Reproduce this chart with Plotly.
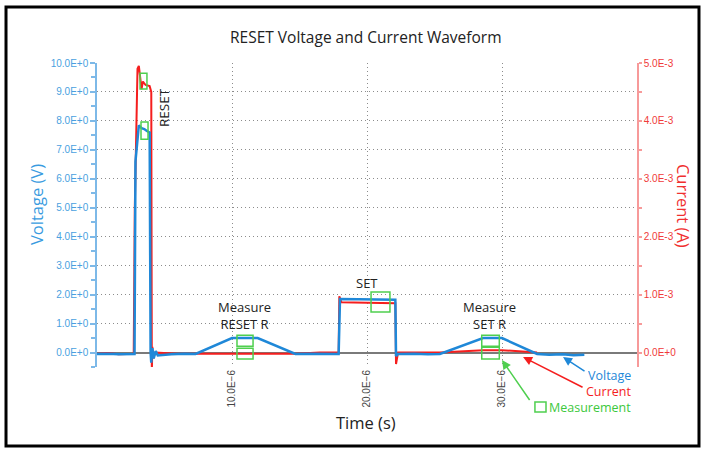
import plotly.graph_objects as go

# ---- data (time in microseconds, voltage in V, current in mA) ----
t_voltage_us = [0.0, 0.8, 1.6, 2.4, 2.78, 2.85, 3.1, 3.3, 3.5, 3.7, 3.9, 3.97, 4.02, 4.1, 4.2, 4.35, 4.5,
                5.5, 6.5, 7.3, 10.0, 11.9, 14.7, 15.8, 17.0, 17.9, 18.0, 20.0, 22.1, 22.15, 22.3,
                23.5, 24.5, 25.4, 28.6, 30.0, 32.6, 33.5, 34.5, 35.3, 36.1]
voltage_v = [-0.05, -0.04, -0.06, -0.05, -0.05, 6.6, 7.85, 7.75, 7.72, 7.65, 7.6, 0.0, -0.35, 0.15, -0.2, 0.05, -0.1,
             -0.06, -0.04, -0.05, 0.5, 0.5, -0.05, -0.04, -0.06, -0.05, 1.85, 1.84, 1.82, -0.12, -0.05,
             -0.04, -0.06, -0.05, 0.5, 0.5, -0.05, -0.08, -0.06, -0.09, -0.08]

t_current_us = [0.0, 0.8, 1.6, 2.4, 2.72, 2.8, 3.0, 3.1, 3.2, 3.3, 3.4, 3.6, 3.9, 4.02, 4.06, 4.1, 4.18, 4.3,
                6.0, 7.3, 10.0, 12.0, 14.7, 16.5, 17.9, 17.95, 18.1, 20.0, 22.1, 22.15, 22.3,
                24.0, 25.4, 28.6, 30.0, 32.6]
current_ma = [-0.02, -0.01, -0.03, -0.02, -0.02, 2.5, 4.9, 4.95, 4.7, 4.55, 4.68, 4.62, 4.6, 4.5, -0.35, 0.1, -0.1, 0.0,
              -0.02, -0.02, -0.02, -0.03, -0.02, 0.0, 0.0, 0.97, 0.87, 0.86, 0.85, -0.2, 0.0,
              0.0, 0.0, 0.04, 0.04, 0.0]

x_tick_vals = [10e-6, 20e-6, 30e-6]
x_tick_text = ["10.0E\u22126", "20.0E\u22126", "30.0E\u22126"]
v_tick_vals = [0, 1, 2, 3, 4, 5, 6, 7, 8, 9, 10]
v_tick_text = ["0.0E+0", "1.0E+0", "2.0E+0", "3.0E+0", "4.0E+0", "5.0E+0",
               "6.0E+0", "7.0E+0", "8.0E+0", "9.0E+0", "10.0E+0"]
i_tick_vals = [0, 1e-3, 2e-3, 3e-3, 4e-3, 5e-3]
i_tick_text = ["0.0E+0", "1.0E-3", "2.0E-3", "3.0E-3", "4.0E-3", "5.0E-3"]

BLUE = "#1f88d8"
RED = "#f51e1e"
GREEN = "#4fcf4f"
AX_BLUE = "#7db9e8"
AX_RED = "#f79a9a"
TXT = "#222222"
GRID = "#8c8c8c"
FONT = "Open Sans"

fig = go.Figure()
# current on the primary (right-side) axis so that the voltage trace is drawn on top
fig.add_trace(go.Scatter(x=[t * 1e-6 for t in t_current_us], y=[c * 1e-3 for c in current_ma], mode="lines",
                         line=dict(color=RED, width=2), name="Current", yaxis="y"))
fig.add_trace(go.Scatter(x=[t * 1e-6 for t in t_voltage_us], y=voltage_v, mode="lines",
                         line=dict(color=BLUE, width=2.5), name="Voltage", yaxis="y2"))

fig.update_layout(
    width=704, height=449,
    margin=dict(l=97, r=67, t=63, b=82),
    paper_bgcolor="white", plot_bgcolor="white",
    showlegend=False,
    xaxis=dict(range=[0, 40e-6], tickmode="array", tickvals=x_tick_vals, ticktext=x_tick_text,
               tickangle=-90, showgrid=True, gridcolor=GRID, griddash="1px,3px", gridwidth=1,
               zeroline=False, showline=False, ticks="",
               tickfont=dict(family="Liberation Sans", size=10, color="#444444")),
    yaxis2=dict(range=[-0.5, 10], tickmode="array", tickvals=v_tick_vals, ticktext=v_tick_text,
                overlaying="y", side="left",
                showgrid=True, gridcolor=GRID, griddash="1px,3px", gridwidth=1,
                zeroline=True, zerolinecolor="#7a7a7a", zerolinewidth=1.5,
                showline=True, linecolor=AX_BLUE, linewidth=1.5,
                ticks="outside", ticklen=5, tickcolor=AX_BLUE, tickwidth=1.5,
                minor=dict(tickmode="linear", tick0=0, dtick=0.5, ticks="outside", ticklen=4,
                           tickcolor=AX_BLUE, showgrid=False),
                tickfont=dict(family="Liberation Sans", size=10, color="#4a9fe0")),
    yaxis=dict(range=[-0.25e-3, 5e-3], side="right", tickmode="array",
               tickvals=i_tick_vals, ticktext=i_tick_text, showgrid=False, zeroline=False,
               showline=True, linecolor=AX_RED, linewidth=1.5,
               ticks="outside", ticklen=3, tickcolor=AX_RED, tickwidth=1.5,
               minor=dict(tickmode="linear", tick0=0, dtick=0.5e-3, ticks="outside", ticklen=3,
                          tickcolor=AX_RED, showgrid=False),
               tickfont=dict(family="Liberation Sans", size=10, color="#f03a3a")),
)

# measurement boxes (x in µs, y in V)
boxes = [
    (3.19, 3.70, 9.10, 9.65),
    (3.26, 3.78, 7.37, 7.96),
    (10.37, 11.56, 0.22, 0.60),
    (10.37, 11.56, -0.22, 0.15),
    (20.30, 21.70, 1.40, 2.09),
    (28.50, 29.80, 0.22, 0.60),
    (28.50, 29.80, -0.22, 0.18),
]
for x0, x1, y0, y1 in boxes:
    fig.add_shape(type="rect", xref="x", yref="y2", x0=x0 * 1e-6, x1=x1 * 1e-6, y0=y0, y1=y1,
                  line=dict(color=GREEN, width=1.5), fillcolor="rgba(0,0,0,0)")

# legend square icon
fig.add_shape(type="rect", xref="paper", yref="paper", x0=0.811, x1=0.8315, y0=-0.148, y1=-0.115,
              line=dict(color=GREEN, width=1.5))
# outer frame
fig.add_shape(type="rect", xref="paper", yref="paper", x0=-0.1685, x1=1.1148, y0=-0.26, y1=1.184,
              line=dict(color="black", width=3))


def pa(x, y, text, size, color, xanchor="center", angle=0, height=None):
    d = dict(xref="paper", yref="paper", x=x, y=y, text=text, textangle=angle,
             xanchor=xanchor, yanchor="middle", showarrow=False,
             font=dict(family=FONT, size=size, color=color))
    if height is not None:
        d.update(height=height, borderpad=0, valign="middle")
    return d


def da(x, y, text, size, angle=0):
    return dict(xref="x", yref="y2", x=x, y=y, text=text, textangle=angle,
                xanchor="center", yanchor="middle", showarrow=False,
                font=dict(family=FONT, size=size, color=TXT))


ann = [
    pa(0.498, 1.0855, "RESET Voltage and Current Waveform", 15.5, TXT),
    pa(-0.111, 0.533, "Voltage (V)", 16.5, "#3a9be0", angle=-90),
    pa(1.085, 0.53, "Current (A)", 16.5, "#f03030", angle=90),
    pa(0.498, -0.181, "Time (s)", 16.5, TXT),
    da(4.96e-6, 8.48, "RESET", 13.5, angle=-90),
    da(10.96e-6, 1.28, "Measure<br>RESET R", 13),
    da(20.0e-6, 2.40, "SET", 13),
    da(29.1e-6, 1.28, "Measure<br>SET R", 13),
    pa(0.9907, -0.027, "Voltage", 12.5, BLUE, xanchor="right", height=15),
    pa(0.9907, -0.079, "Current", 12.5, RED, xanchor="right", height=15),
    pa(0.9907, -0.133, "Measurement", 12.5, "#3cc83c", xanchor="right", height=15),
]
# arrows
for hx, hy, ax, ay, col in [(34.52, -0.155, 23, 15, BLUE), (31.56, -0.155, 61, 31, RED),
                             (30.0, -0.26, 29, 42, GREEN)]:
    ann.append(dict(xref="x", yref="y2", x=hx * 1e-6, y=hy, ax=ax, ay=ay, text=" ",
                    showarrow=True, arrowhead=2, arrowsize=1.2, arrowwidth=1.5, arrowcolor=col,
                    font=dict(size=1)))
fig.update_layout(annotations=ann)

fig.write_html("out.html", config={"displayModeBar": False},
               post_script="document.body.style.margin='0';")
